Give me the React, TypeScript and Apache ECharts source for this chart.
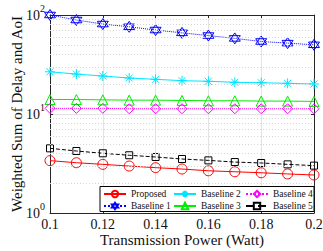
import React, { useEffect, useRef } from "react";
import * as echarts from "echarts";

const powers = [0.1, 0.11, 0.12, 0.13, 0.14, 0.15, 0.16, 0.17, 0.18, 0.19, 0.2];
const proposed = [3.38, 3.22, 3.1, 2.98, 2.87, 2.78, 2.67, 2.61, 2.55, 2.48, 2.42];
const baseline1 = [100, 89, 81, 76, 70.5, 66, 62, 58, 54, 52, 50];
const baseline2 = [26.7, 25.3, 24.2, 23.1, 22.4, 21.7, 21.4, 20.9, 20.7, 20.4, 20.1];
const baseline3 = [14.0, 14.0, 13.9, 13.8, 13.8, 13.7, 13.6, 13.6, 13.5, 13.5, 13.4];
const baseline4 = [11.4, 11.4, 11.4, 11.3, 11.3, 11.3, 11.3, 11.3, 11.3, 11.3, 11.3];
const baseline5 = [4.5, 4.23, 4.01, 3.83, 3.68, 3.51, 3.4, 3.27, 3.2, 3.1, 3.01];
const minorGridValues = [2, 3, 4, 5, 6, 7, 8, 9, 20, 30, 40, 50, 60, 70, 80, 90];

const FONT = "Liberation Serif";
const HEX = "path://M0,-10L8.66,5L-8.66,5ZM0,10L8.66,-5L-8.66,-5Z";
const AST = "path://M0,-10L0,10M-10,0L10,0M-7,-7L7,7M-7,7L7,-7";
const NOFILL = "rgba(0,0,0,0)";

function mk(name: string, values: number[], color: string, symbol: string, size: number, type: string) {
  return {
    name,
    type: "line",
    data: powers.map((p, i) => [p, values[i]]),
    symbol,
    symbolSize: size,
    color,
    lineStyle: { color, width: 1, type },
    itemStyle: { color: NOFILL, borderColor: color, borderWidth: 1 },
    z: 3,
  };
}

export default function App() {
  const ref = useRef<HTMLDivElement>(null);
  useEffect(() => {
    const chart = echarts.init(ref.current!, null, { renderer: "svg" });
    const axisColor = "#262626";
    const legendBase = {
      orient: "vertical",
      top: 189,
      itemWidth: 22,
      itemHeight: 8,
      itemGap: 2,
      padding: 0,
      z: 10,
      textStyle: { fontFamily: FONT, fontSize: 9.5, color: "#111", lineHeight: 10 },
    };
    chart.setOption({
      animation: false,
      backgroundColor: "#fff",
      textStyle: { fontFamily: FONT },
      grid: { left: 50, right: 9, top: 15, bottom: 38, containLabel: false, outerBoundsMode: "none" },
      xAxis: [
        {
          type: "value",
          min: 0.1,
          max: 0.2,
          interval: 0.02,
          name: "Transmission Power (Watt)",
          nameLocation: "middle",
          nameGap: 19,
          nameMoveOverlap: false,
          nameTextStyle: { fontFamily: FONT, fontSize: 15, color: "#111", lineHeight: 15 },
          axisLine: { show: true, lineStyle: { color: axisColor, width: 1 } },
          axisTick: { show: true, inside: true, length: 3, lineStyle: { color: axisColor } },
          axisLabel: { fontFamily: FONT, fontSize: 14, lineHeight: 13, color: "#111", margin: 5, formatter: (v: number) => String(+v.toFixed(2)) },
          splitLine: { show: true, lineStyle: { color: "#e3e3e3", width: 1 } },
        },
        {
          type: "value",
          position: "top",
          min: 0.1,
          max: 0.2,
          interval: 0.02,
          axisLine: { show: true, lineStyle: { color: axisColor, width: 1 } },
          axisTick: { show: true, inside: true, length: 3, lineStyle: { color: axisColor } },
          axisLabel: { show: false },
          splitLine: { show: false },
        },
      ],
      yAxis: [
        {
          type: "log",
          min: 1,
          max: 100,
          logBase: 10,
          name: "Weighted Sum of Delay and AoI",
          nameLocation: "middle",
          nameGap: 26,
          nameMoveOverlap: false,
          nameTextStyle: { fontFamily: FONT, fontSize: 15, color: "#111" },
          axisLine: { show: true, lineStyle: { color: axisColor, width: 1 } },
          axisTick: { show: true, inside: true, length: 3, lineStyle: { color: axisColor } },
          axisLabel: {
            fontFamily: FONT,
            color: "#111",
            margin: 5,
            formatter: (v: number) => "{a|10}{b|" + Math.round(Math.log10(v)) + "}",
            rich: {
              a: { fontFamily: FONT, fontSize: 14, color: "#111" },
              b: { fontFamily: FONT, fontSize: 10, color: "#111", verticalAlign: "top", lineHeight: 24 },
            },
          },
          splitLine: { show: true, lineStyle: { color: "#e3e3e3", width: 1 } },
        },
        {
          type: "log",
          position: "right",
          min: 1,
          max: 100,
          logBase: 10,
          axisLine: { show: true, lineStyle: { color: axisColor, width: 1 } },
          axisTick: { show: true, inside: true, length: 3, lineStyle: { color: axisColor } },
          axisLabel: { show: false },
          splitLine: { show: false },
        },
      ],
      legend: [
        { ...legendBase, left: 103, data: ["Proposed", "Baseline 1"] },
        { ...legendBase, left: 173, data: ["Baseline 2", "Baseline 3"] },
        { ...legendBase, left: 245, data: ["Baseline 4", "Baseline 5"] },
      ],
      graphic: [
        {
          type: "rect",
          z: 5,
          shape: { x: 100, y: 186.5, width: 214, height: 25 },
          style: { fill: "#fff", stroke: "#000", lineWidth: 1 },
        },
      ],
      series: [
        {
          type: "line",
          data: [],
          silent: true,
          markLine: {
            silent: true,
            symbol: "none",
            label: { show: false },
            lineStyle: { color: "#d5d5d5", type: [1, 2], width: 1 },
            data: minorGridValues.map((v) => ({ yAxis: v })),
          },
          z: 1,
        },
        mk("Proposed", proposed, "#ff0000", "circle", 10, "solid"),
        mk("Baseline 1", baseline1, "#0000ff", HEX, 11, "dotted"),
        mk("Baseline 2", baseline2, "#00e5ff", AST, 10, "solid"),
        mk("Baseline 3", baseline3, "#00ee00", "triangle", 10, "solid"),
        mk("Baseline 4", baseline4, "#ff00ff", "diamond", 10, "dotted"),
        mk("Baseline 5", baseline5, "#000000", "rect", 7, "dashed"),
      ],
    });
    return () => chart.dispose();
  }, []);
  return <div ref={ref} style={{ position: "fixed", left: 0, top: 0, width: 323, height: 251 }} />;
}
